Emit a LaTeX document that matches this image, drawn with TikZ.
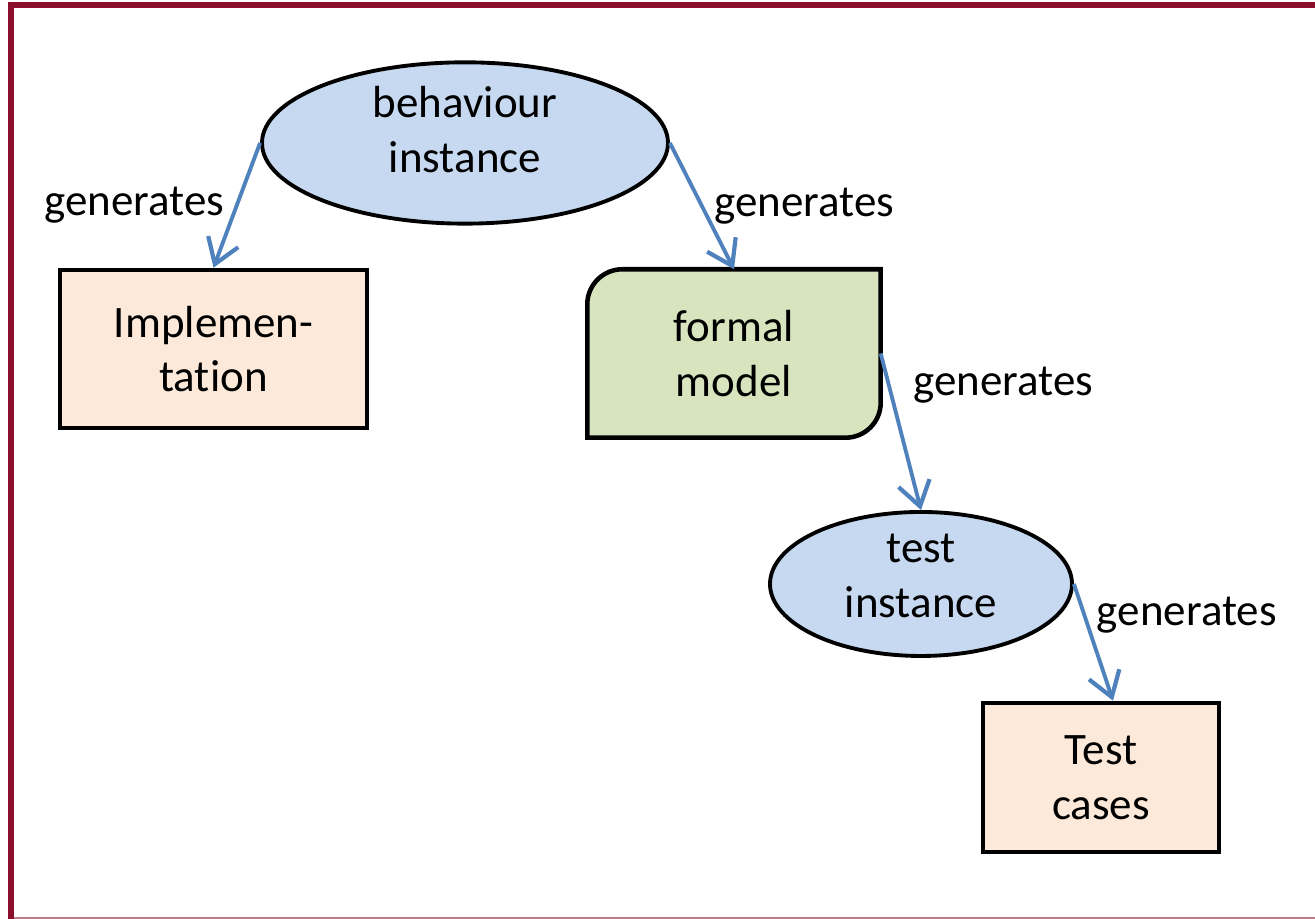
\documentclass[tikz,border=0pt]{standalone}
\usepackage{fontspec}
\setmainfont{Carlito}[Ligatures=NoCommon]
\usetikzlibrary{shapes.geometric, arrows.meta, backgrounds}
\definecolor{frame}{RGB}{140,14,44}
\definecolor{instblue}{RGB}{198,217,240}
\definecolor{boxrose}{RGB}{253,233,217}
\definecolor{modelgreen}{RGB}{215,228,189}
\definecolor{arrowblue}{RGB}{79,129,189}

\begin{document}
\begin{tikzpicture}

\tikzset{instance/.style = {shape=ellipse,draw,line width=1.1pt,fill=instblue,inner sep=0pt,align=center}}
\tikzset{artefact/.style = {shape=rectangle,draw,line width=1.3pt,fill=boxrose,inner sep=0pt,align=center}}
\tikzset{edge/.style = {-{Straight Barb[length=2.4mm,width=3.2mm,line width=1.2pt]},draw=arrowblue,line width=1.1pt}}
\tikzset{lbl/.style = {inner sep=3pt}}
\fontsize{12.8}{15.6}\selectfont

\useasboundingbox (0,0) rectangle (13.15,9.19);
%frame
\draw[frame, line width=1.7pt] (0.11,0) -- (0.11,9.135) -- (13.15,9.135);
\draw[frame!55, line width=0.5pt] (0.14,0.01) -- (13.15,0.01);

%verticies
\node[instance, minimum width=4.06cm, minimum height=1.46cm, text depth=0.28cm] (beh) at (4.65,7.76) {behaviour\\instance};
\node[artefact, minimum width=3.07cm, minimum height=1.58cm] (impl) at (2.135,5.70) {Implemen-\\tation};
\node[inner sep=0pt, minimum width=2.92cm, minimum height=1.67cm, align=center] (fm) at (7.34,5.655) {formal\\model};
\node[instance, minimum width=3.02cm, minimum height=1.44cm, text depth=0.17cm] (ti) at (9.21,3.35) {test\\instance};
\node[artefact, minimum width=2.36cm, minimum height=1.49cm] (tc) at (11.01,1.415) {Test\\cases};
\begin{pgfonlayer}{background}
\draw[line width=1.3pt, fill=modelgreen] (fm.south west) -- ([yshift=-3.5mm]fm.north west)
  arc[start angle=180, end angle=90, radius=3.5mm] -- (fm.north east)
  -- ([yshift=3.5mm]fm.south east) arc[start angle=0, end angle=-90, radius=3.5mm] -- cycle;
\end{pgfonlayer}

%edges
\draw[edge] (beh.west) -- (impl.north) node[lbl, midway, left] {generates};
\draw[edge] (beh.east) -- (fm.north) node[lbl, midway, right] {generates};
\draw[edge] (fm.east) -- (ti.north) node[lbl, pos=0.2, right, xshift=1.2mm] {generates};
\draw[edge] (ti.east) -- ([xshift=1.2mm]tc.north) node[lbl, pos=0.27, right] {generates};

\end{tikzpicture}
\end{document}
